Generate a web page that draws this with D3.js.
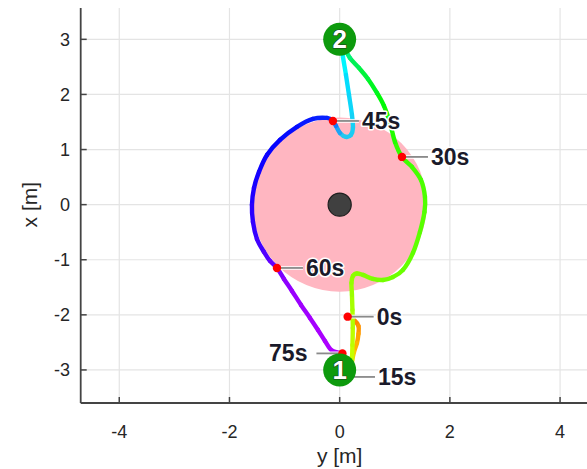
<!DOCTYPE html>
<html>
<head>
<meta charset="utf-8">
<script src="https://cdn.jsdelivr.net/npm/d3@7/dist/d3.min.js"></script>
<style>
  html, body { margin: 0; padding: 0; background: #fff; }
  svg { display: block; }
  text { font-family: "Liberation Sans", Arial, sans-serif; }
</style>
</head>
<body>
<svg id="chart" width="587" height="469"></svg>
<script>
// Tick values for both axes
const yAxisTicks = [-4, -2, 0, 2, 4];          // horizontal axis: y [m]
const xAxisTicks = [-3, -2, -1, 0, 1, 2, 3];   // vertical axis: x [m]

// Robot trajectory: time stamp [s], lateral y [m], forward x [m]
const trajT = [0, 1, 2, 3.5, 5, 7, 9, 11, 13, 15, 16.5, 17.5, 18.5, 19.5, 20.5, 21.5, 22.3, 22.8, 23.3, 23.8,
  24.4, 25, 25.5, 26, 26.7, 27.3, 27.9, 28.4, 28.9, 29.4, 30, 30.6, 31.3, 32, 33, 34, 35, 36, 37, 38,
  39, 40, 41, 42, 42.7, 43.2, 43.7, 44.2, 44.6, 45, 46, 47, 48, 49, 50, 51, 52, 53, 54, 55,
  56.5, 58, 60, 62, 64, 66, 68, 70, 72, 74, 75];
const trajY = [0.145, 0.260, 0.341, 0.341, 0.314, 0.260, 0.223, 0.214, 0.205, 0.169, 0.205, 0.223, 0.232, 0.238, 0.232, 0.223, 0.214, 0.241, 0.314, 0.423,
  0.604, 0.786, 0.967, 1.149, 1.330, 1.457, 1.539, 1.548, 1.475, 1.312, 1.131, 1.004, 0.913, 0.804, 0.677, 0.514, 0.350, 0.187, 0.078, 0.024,
  0.060, 0.114, 0.169, 0.223, 0.241, 0.205, 0.114, 0.005, -0.067, -0.122, -0.230, -0.485, -0.775, -1.083, -1.319, -1.465, -1.555, -1.592, -1.574, -1.501,
  -1.374, -1.265, -1.138, -1.011, -0.866, -0.702, -0.539, -0.394, -0.267, -0.140, 0.050];
const trajX = [-2.033, -2.093, -2.201, -2.346, -2.510, -2.673, -2.855, -2.999, -3.054, -3.127, -2.999, -2.819, -2.547, -2.238, -1.911, -1.639, -1.421, -1.294, -1.249, -1.276,
  -1.348, -1.367, -1.312, -1.185, -0.877, -0.495, -0.132, 0.140, 0.448, 0.684, 0.866, 1.138, 1.483, 1.791, 2.027, 2.281, 2.481, 2.662, 2.862, 2.971,
  2.681, 2.355, 1.991, 1.628, 1.392, 1.265, 1.229, 1.301, 1.428, 1.519, 1.574, 1.555, 1.410, 1.175, 0.902, 0.593, 0.303, -0.005, -0.314, -0.622,
  -0.858, -1.022, -1.149, -1.349, -1.566, -1.820, -2.056, -2.274, -2.474, -2.650, -2.700];

// Time marks along the trajectory
const markTimes = [0, 15, 30, 45, 60, 75];
const markSide = ["right", "right", "right", "right", "right", "left"];

// Goals, obstacle and its safety zone
const goalIds = ["1", "2"];
const goalY = [0, 0];
const goalX = [-3, 3];
const obstacleY = 0, obstacleX = 0;
const obstacleRadius = 0.21;
const zoneRadius = 1.58;

// Colour along the trajectory by time
const timeStops = [0, 8, 15, 21, 30, 36, 40, 44, 45.5, 52, 58, 64, 75];
const timeColors = ["#ff7a00", "#ffc800", "#e8ff00", "#a6ff00", "#3cff00", "#00f060", "#00e0ff", "#22c8f0",
  "#0a2cff", "#1a00ff", "#5a00ff", "#9800ff", "#b200ff"];

const svg = d3.select("#chart");
const W = 587, H = 469;
const plotLeft = 80.7, plotTop = 8, plotBottom = 403;
const pxPerM = 55.1;

const sx = d3.scaleLinear().domain([-4.7, 4.7]).range([plotLeft, plotLeft + 9.4 * pxPerM]);
const sy = d3.scaleLinear().domain([-3.6, 3.57]).range([plotBottom, plotBottom - 7.17 * pxPerM]);
const color = d3.scaleLinear().domain(timeStops).range(timeColors).interpolate(d3.interpolateHsl);

// grid
const grid = svg.append("g");
grid.selectAll(".gx").data(yAxisTicks).join("line")
  .attr("x1", d => sx(d)).attr("x2", d => sx(d))
  .attr("y1", plotTop).attr("y2", plotBottom)
  .attr("stroke", "#e4e4e4").attr("stroke-width", 1.2);
grid.selectAll(".gy").data(xAxisTicks).join("line")
  .attr("x1", plotLeft).attr("x2", W)
  .attr("y1", d => sy(d)).attr("y2", d => sy(d))
  .attr("stroke", "#e4e4e4").attr("stroke-width", 1.2);

// safety zone and obstacle
svg.append("circle")
  .attr("cx", sx(obstacleY)).attr("cy", sy(obstacleX))
  .attr("r", sx(zoneRadius) - sx(0))
  .attr("fill", "#ffb6c1");
svg.append("circle")
  .attr("cx", sx(obstacleY)).attr("cy", sy(obstacleX))
  .attr("r", sx(obstacleRadius) - sx(0))
  .attr("fill", "#404040").attr("stroke", "#1e1e1e").attr("stroke-width", 1.2);

// trajectory: each piece is a Catmull-Rom (uniform) cubic between two samples,
// so the colour can change along the path while the curve stays smooth
const pts = trajT.map((t, i) => ({ t, y: trajY[i], x: trajX[i], px: sx(trajY[i]), py: sy(trajX[i]) }));
const pieces = d3.range(pts.length - 1).map(i => {
  const p0 = pts[Math.max(0, i - 1)], p1 = pts[i], p2 = pts[i + 1], p3 = pts[Math.min(pts.length - 1, i + 2)];
  const c1x = p1.px + (p2.px - p0.px) / 6, c1y = p1.py + (p2.py - p0.py) / 6;
  const c2x = p2.px - (p3.px - p1.px) / 6, c2y = p2.py - (p3.py - p1.py) / 6;
  return {
    t: (p1.t + p2.t) / 2,
    d: `M${p1.px},${p1.py}C${c1x},${c1y} ${c2x},${c2y} ${p2.px},${p2.py}`
  };
});
svg.append("g").selectAll("path").data(pieces).join("path")
  .attr("d", d => d.d)
  .attr("fill", "none")
  .attr("stroke", d => color(d.t))
  .attr("stroke-width", 4.4)
  .attr("stroke-linecap", "round");

// time marks: dots and leader lines
const marks = markTimes.map((t, i) => {
  const p = pts.find(q => q.t === t);
  return { t, y: p.y, x: p.x, side: markSide[i] };
});
const leaderLen = 26;
const leaders = svg.append("g");
leaders.selectAll(".halo").data(marks).join("line")
  .attr("x1", d => sx(d.y)).attr("y1", d => sy(d.x))
  .attr("x2", d => sx(d.y) + (d.side === "right" ? leaderLen : -leaderLen)).attr("y2", d => sy(d.x))
  .attr("stroke", "#fff").attr("stroke-width", 4).attr("stroke-opacity", 0.8);
leaders.selectAll(".lead").data(marks).join("line")
  .attr("x1", d => sx(d.y)).attr("y1", d => sy(d.x))
  .attr("x2", d => sx(d.y) + (d.side === "right" ? leaderLen : -leaderLen)).attr("y2", d => sy(d.x))
  .attr("stroke", "#8a8a8a").attr("stroke-width", 1.8);
svg.append("g").selectAll("circle").data(marks).join("circle")
  .attr("cx", d => sx(d.y)).attr("cy", d => sy(d.x)).attr("r", 4.2)
  .attr("fill", "#ff0000");

// goal markers
const goals = svg.append("g").selectAll("g").data(goalIds).join("g")
  .attr("transform", (d, i) => `translate(${sx(goalY[i])},${sy(goalX[i])})`);
goals.append("circle").attr("r", 16.5).attr("fill", "#0d9a0d");
goals.append("text")
  .attr("text-anchor", "middle").attr("dy", 9)
  .attr("font-size", 26).attr("font-weight", "bold")
  .attr("fill", "#fff").attr("stroke", "#1d3a1d").attr("stroke-width", 1.2)
  .attr("paint-order", "stroke")
  .text(d => d);

// time labels
svg.append("g").selectAll("text").data(marks).join("text")
  .attr("x", d => sx(d.y) + (d.side === "right" ? leaderLen + 3 : -leaderLen - 9))
  .attr("y", d => sy(d.x) + 8)
  .attr("text-anchor", d => d.side === "right" ? "start" : "end")
  .attr("font-size", 23).attr("font-weight", "bold")
  .attr("fill", "#1a1a2a")
  .attr("stroke", "#fff").attr("stroke-width", 3).attr("stroke-linejoin", "round")
  .attr("paint-order", "stroke")
  .text(d => d.t + "s");

// axes with inward ticks
const axisColor = "#444";
const ax = svg.append("g");
ax.append("line").attr("x1", plotLeft).attr("x2", W).attr("y1", plotBottom).attr("y2", plotBottom)
  .attr("stroke", axisColor).attr("stroke-width", 1.8);
ax.append("line").attr("x1", plotLeft).attr("x2", plotLeft).attr("y1", plotTop).attr("y2", plotBottom)
  .attr("stroke", axisColor).attr("stroke-width", 1.8);
ax.selectAll(".tx").data(yAxisTicks).join("line")
  .attr("x1", d => sx(d)).attr("x2", d => sx(d)).attr("y1", plotBottom).attr("y2", plotBottom - 6)
  .attr("stroke", axisColor).attr("stroke-width", 1.5);
ax.selectAll(".ty").data(xAxisTicks).join("line")
  .attr("x1", plotLeft).attr("x2", plotLeft + 6).attr("y1", d => sy(d)).attr("y2", d => sy(d))
  .attr("stroke", axisColor).attr("stroke-width", 1.5);
ax.selectAll(".lx").data(yAxisTicks).join("text")
  .attr("x", d => sx(d)).attr("y", 438)
  .attr("text-anchor", "middle").attr("font-size", 18).attr("fill", "#262626")
  .text(d => d);
ax.selectAll(".ly").data(xAxisTicks).join("text")
  .attr("x", 70).attr("y", d => sy(d) + 6.5)
  .attr("text-anchor", "end").attr("font-size", 18).attr("fill", "#262626")
  .text(d => d);

svg.append("text")
  .attr("x", sx(0)).attr("y", 463)
  .attr("text-anchor", "middle").attr("font-size", 21).attr("fill", "#262626")
  .text("y [m]");
svg.append("text")
  .attr("transform", `translate(37,${sy(0)}) rotate(-90)`)
  .attr("text-anchor", "middle").attr("font-size", 21).attr("fill", "#262626")
  .text("x [m]");
</script>
</body>
</html>
